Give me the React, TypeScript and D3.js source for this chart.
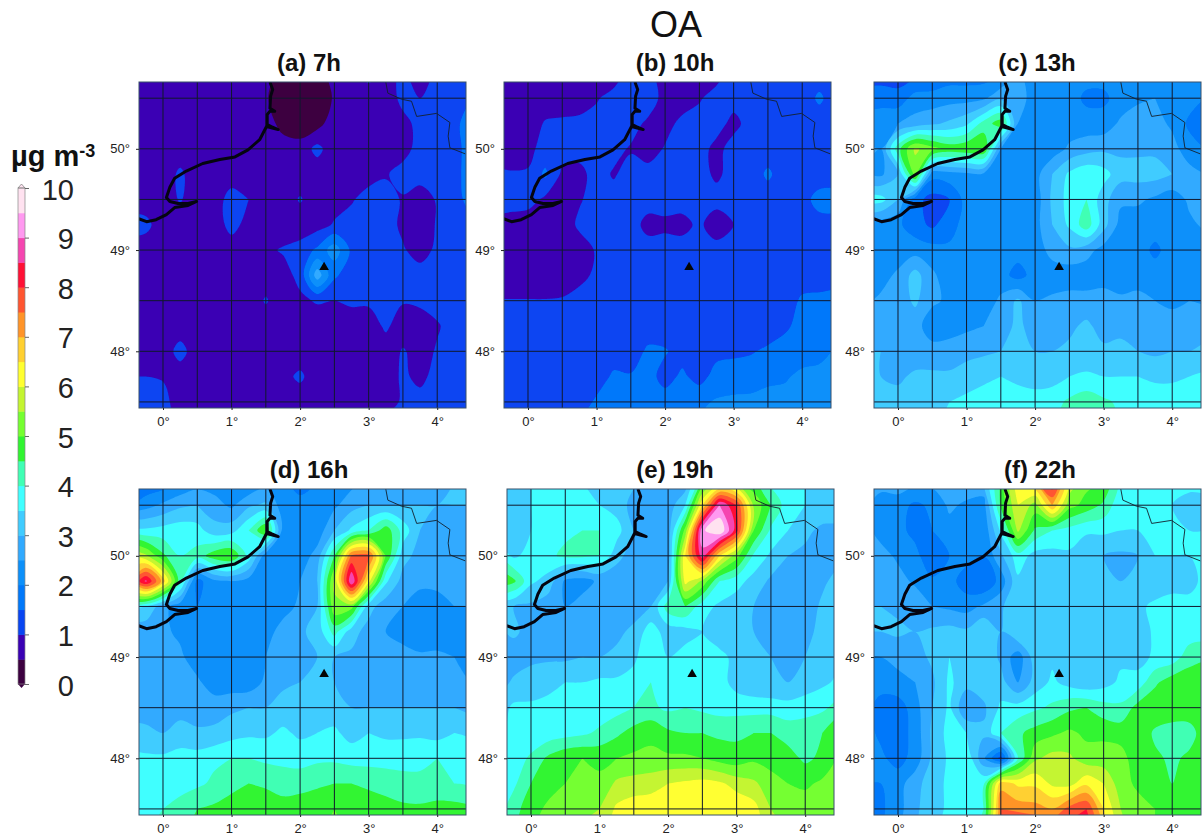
import React, { useEffect, useRef } from "react";
import * as d3 from "d3";

// concentration, rows lat 50.75 -> 47.25, cols lon -0.5 -> 4.5 (0.25 deg steps)
const gridLons = d3.range(21).map((i) => -0.5 + i * 0.25);
const gridLats = d3.range(15).map((j) => 50.75 - j * 0.25);

const panelA = [
  [.7,.7,.7,.7,.7,.7,.7,.7,.7,.2,.2,.2,.7,.8,1.2,.8,1.1,.7,1.1,1.2,1.2],
  [.7,.7,.7,.7,.7,.7,.7,.7,.55,.2,.2,.2,.55,.7,.7,.7,1.15,1.0,1.15,1.3,1.5],
  [.7,.7,.7,.7,.7,.7,.7,.7,.7,.35,.2,.3,.8,.7,.7,.7,.85,1.15,1.25,1.4,1.7],
  [.7,.7,.7,.7,.7,.7,.7,.7,.7,.7,.7,1.15,.7,.7,.7,.8,.8,1.2,1.3,1.35,1.7],
  [.7,.7,.7,1.1,.7,.7,.7,.7,.7,.7,.7,.7,.7,.75,.8,.95,1.2,1.2,1.2,1.3,1.8],
  [.7,.7,.7,1.05,.7,.7,1.25,1.0,.7,.7,1.05,.7,.8,.95,1.2,1.2,.95,.75,1.05,1.3,1.7],
  [1.2,1.15,.7,.7,.7,.7,1.2,.8,.7,.7,.7,.8,1.05,1.2,1.2,1.2,.9,.7,1.05,1.2,1.3],
  [.7,.7,.7,.7,.7,.7,.7,.75,.9,1.05,1.2,1.6,2.3,1.4,1.2,1.2,1.05,.8,1.1,1.2,1.2],
  [.7,.7,.7,.7,.7,.7,.7,.7,.75,.8,1.15,2.8,1.6,1.2,1.2,1.2,1.2,1.2,1.2,1.2,1.2],
  [.7,.7,.7,.7,.7,.7,.7,.7,1.05,.7,.9,1.05,1.0,1.1,1.1,1.1,1.05,1.1,1.2,1.2,1.2],
  [.7,.7,.7,.7,.7,.7,.7,.7,.7,.7,.7,.7,.7,.7,.7,1.1,.7,.75,.95,1.2,1.2],
  [.7,.7,.7,1.2,.7,.7,.7,.7,.7,.7,.7,.7,.7,.8,.7,.7,1.05,.8,1.05,1.2,1.2],
  [1.0,1.0,.95,.7,.7,.7,.7,.7,.7,.85,1.1,.7,.95,.7,.7,.7,1.1,.85,1.2,1.2,1.2],
  [1.2,1.2,1.2,.7,.7,.7,.7,.7,.7,.7,.7,.7,.7,.7,.75,.85,1.05,1.2,1.2,1.25,1.4],
  [1.2,1.2,1.2,.8,.8,.8,.8,.8,.8,.8,.8,.8,.85,1.1,1.2,1.2,1.2,1.2,1.3,1.6,1.6],
];
const panelB = [
  [.7,.7,.7,.7,.7,.7,.7,.7,1.2,1.15,.7,.7,.7,.8,1.2,1.2,1.2,1.2,1.2,1.2,1.2],
  [.7,.7,.7,.7,.7,.7,.95,1.2,1.25,1.3,.8,.7,.95,1.2,1.2,1.2,1.2,1.2,1.2,1.6,1.2],
  [.7,.7,.7,1.05,1.1,1.15,1.2,1.2,1.2,.9,.8,1.15,1.2,1.2,.85,1.2,1.2,1.2,1.2,1.2,1.2],
  [.7,.7,.85,1.2,1.2,1.2,1.2,1.15,.95,.75,1.05,1.2,1.2,.85,1.2,1.2,1.2,1.2,1.2,1.2,1.2],
  [1.1,1.05,1.05,1.6,.9,.85,1.2,.95,1.2,1.2,1.2,1.2,1.2,.9,1.2,1.2,1.6,1.2,1.2,1.2,1.2],
  [1.2,1.2,1.2,.9,.85,.95,1.2,1.2,1.2,1.2,1.2,1.2,1.2,1.2,1.2,1.2,1.2,1.2,1.3,1.7,1.7],
  [.85,.8,.7,.7,.7,1.1,1.05,1.2,1.2,.85,.9,.85,1.1,.7,1.0,1.2,1.2,1.2,1.2,1.3,1.3],
  [.7,.7,.7,.7,.7,.75,1.05,1.2,1.2,1.2,1.2,1.2,1.2,1.2,1.2,1.2,1.2,1.2,1.2,1.2,1.2],
  [.7,.7,.7,.7,.7,.85,1.1,1.2,1.2,1.2,1.2,1.2,1.2,1.2,1.2,1.2,1.2,1.2,1.2,1.2,1.2],
  [1.02,1.02,1.02,1.02,1.05,1.2,1.2,1.2,1.2,1.2,1.2,1.2,1.2,1.2,1.2,1.2,1.2,1.2,1.6,1.65,1.7],
  [1.2,1.2,1.2,1.2,1.2,1.2,1.2,1.2,1.2,1.2,1.2,1.2,1.2,1.2,1.2,1.2,1.2,1.4,1.7,1.7,1.75],
  [1.2,1.2,1.2,1.2,1.2,1.2,1.2,1.2,1.2,1.6,1.55,1.3,1.25,1.35,1.4,1.45,1.6,1.75,1.8,1.85,2.05],
  [1.6,1.2,1.2,1.2,1.2,1.2,1.2,1.6,1.55,1.7,1.3,1.6,1.3,1.7,1.75,1.8,1.9,1.95,2.1,2.15,2.2],
  [1.3,1.2,1.2,1.2,1.2,1.2,1.6,1.7,1.7,1.7,1.75,1.8,1.9,2.05,2.1,2.1,2.15,2.15,2.2,2.2,2.2],
  [1.3,1.2,1.2,1.2,1.3,1.6,1.7,1.75,1.8,1.8,1.85,1.95,2.1,2.15,2.2,2.2,2.2,2.2,2.2,2.3,2.3],
];
const panelC = [
  [1.2,1.2,1.2,1.3,1.5,1.7,1.7,1.7,1.9,2.6,2.2,2.2,2.2,2.2,2.2,2.2,2.2,2.2,2.2,2.2,2.2],
  [1.7,1.8,1.7,2.2,2.2,2.3,2.3,2.4,2.9,2.8,2.2,2.1,2.2,1.9,1.9,2.2,2.4,2.5,2.4,2.2,2.0],
  [2.2,2.3,2.5,2.7,2.9,3.1,3.4,4.2,4.8,2.5,2.2,2.2,2.2,2.2,2.2,2.6,2.8,2.7,2.4,1.9,1.8],
  [2.6,2.5,4.3,5.6,5.2,4.8,4.9,5.0,2.5,2.2,2.2,2.2,2.6,2.8,2.9,2.9,2.9,2.9,2.7,2.2,2.0],
  [2.4,2.4,3.0,5.2,2.2,2.3,2.4,2.4,2.3,2.2,2.3,3.0,3.6,3.9,3.7,3.2,3.2,3.2,3.0,2.7,2.5],
  [3.7,3.7,3.0,1.7,1.3,1.5,2.2,2.2,2.2,2.2,2.2,3.1,3.7,4.0,3.2,2.6,2.6,2.4,2.2,2.6,2.9],
  [2.2,2.2,2.1,1.7,1.4,1.8,2.2,2.2,2.2,2.2,2.3,3.0,3.6,4.3,3.2,2.3,2.2,2.2,2.2,2.4,2.6],
  [2.1,2.1,2.2,2.3,2.2,2.1,2.1,2.1,2.2,2.2,2.2,2.7,2.9,2.7,2.3,2.2,2.2,1.9,2.2,2.2,2.2],
  [2.2,2.3,2.6,3.2,2.6,2.2,2.1,2.1,2.2,1.8,2.2,2.2,2.2,2.2,2.3,2.2,2.2,2.2,2.2,2.3,2.5],
  [2.4,2.6,2.7,3.1,2.6,2.4,2.1,2.2,2.6,3.1,2.5,2.6,2.7,2.7,2.7,2.6,2.7,2.5,2.4,2.5,2.4],
  [2.8,2.7,2.7,2.7,2.2,2.3,2.4,2.5,2.8,3.1,2.8,2.9,2.9,3.1,2.8,2.8,2.8,2.7,2.7,2.7,2.8],
  [3.0,3.0,2.7,2.7,2.7,2.7,2.8,2.9,3.0,3.1,3.0,3.0,3.1,3.1,3.1,3.2,3.0,2.9,3.0,3.0,3.1],
  [3.0,3.0,2.9,3.1,3.1,3.1,3.3,3.4,3.5,3.4,3.3,3.3,3.5,3.6,3.5,3.5,3.5,3.4,3.4,3.5,3.6],
  [3.1,3.1,3.2,3.3,3.3,3.5,3.6,3.7,3.8,3.7,3.7,3.8,4.1,4.3,4.1,3.9,3.8,3.8,3.8,3.8,3.9],
  [3.2,3.2,3.3,3.4,3.4,3.6,3.7,3.8,3.8,3.8,3.8,3.9,4.2,4.4,4.2,4.0,3.9,3.9,3.9,3.9,4.0],
];
const panelD = [
  [1.5,1.5,1.6,1.9,2.2,2.2,1.9,1.9,2.2,2.1,1.7,2.0,2.1,2.3,2.6,2.8,2.9,2.9,2.9,3.0,3.0],
  [1.9,2.3,2.6,2.9,3.0,2.7,2.4,2.9,3.1,2.2,2.2,2.2,2.4,2.8,3.0,3.0,3.0,3.0,3.0,3.0,3.0],
  [3.6,3.6,3.7,3.8,3.7,3.2,3.3,4.0,5.0,2.3,2.2,2.2,3.0,3.6,4.0,4.8,3.8,3.0,2.9,2.9,2.9],
  [6.0,5.6,4.6,4.0,4.2,4.8,5.0,3.8,2.2,2.2,2.2,2.7,4.5,7.6,7.7,5.0,3.2,2.8,2.8,2.7,2.6],
  [7.0,8.6,6.8,4.2,1.8,2.4,2.5,2.3,2.2,2.3,2.5,3.0,5.6,9.0,6.2,3.6,2.8,2.7,2.7,2.7,2.6],
  [3.6,3.5,2.7,2.2,2.0,2.2,2.2,2.2,2.2,2.3,2.6,3.0,5.4,5.2,3.2,2.7,2.5,2.1,2.2,2.5,2.5],
  [2.5,2.6,2.6,2.4,2.2,2.2,2.2,2.2,2.3,2.7,2.9,3.2,4.2,3.2,2.8,2.5,2.3,2.1,2.2,2.2,2.3],
  [2.5,2.5,2.6,2.6,2.2,2.2,2.2,2.2,2.5,2.7,2.8,3.0,3.0,2.9,2.8,2.7,2.7,2.6,2.6,2.5,2.4],
  [2.6,2.6,2.6,2.7,2.6,2.2,2.2,2.2,2.6,2.9,3.0,3.0,3.0,2.9,2.9,2.7,2.6,2.7,2.7,2.7,2.5],
  [2.7,2.8,2.6,2.8,2.7,2.8,2.9,3.0,3.0,3.2,3.1,3.1,3.2,3.0,3.0,3.0,3.0,3.0,3.0,3.0,2.8],
  [3.2,3.1,3.0,3.2,3.1,3.1,3.3,3.4,3.4,3.6,3.4,3.5,3.6,3.3,3.5,3.4,3.4,3.4,3.3,3.5,3.4],
  [3.6,3.6,3.6,3.7,3.7,3.9,4.0,4.0,3.9,3.9,3.8,3.9,3.9,3.8,3.8,3.8,3.8,3.9,4.0,3.8,3.8],
  [3.7,3.7,3.7,3.8,3.9,4.1,4.3,4.5,4.4,4.2,4.3,4.4,4.5,4.5,4.4,4.3,4.2,4.1,4.1,4.0,3.9],
  [3.8,3.9,4.0,4.2,4.5,4.6,4.8,4.9,4.9,4.8,4.8,4.9,5.0,4.9,4.8,4.7,4.6,4.6,4.7,4.7,4.6],
  [3.9,4.0,4.1,4.3,4.7,4.8,4.9,5.0,5.0,5.0,5.0,5.0,5.0,5.0,5.0,4.9,4.8,4.8,4.8,4.8,4.8],
];
const panelE = [
  [3.4,3.4,3.5,3.5,3.5,3.5,3.4,3.3,3.1,2.7,2.4,2.6,4.4,5.2,5.0,4.6,3.8,3.6,3.5,3.4,3.2],
  [3.4,3.3,3.5,3.6,3.6,3.5,3.5,3.3,2.8,2.7,2.7,3.5,6.5,9.0,8.0,5.4,4.5,3.7,3.5,3.3,3.2],
  [3.0,3.0,3.5,3.7,3.9,4.0,4.0,3.7,3.0,2.7,2.7,5.2,9.4,10,8.2,5.0,3.9,3.5,3.1,2.9,2.9],
  [3.9,3.4,3.7,3.9,4.1,4.1,4.0,3.2,2.7,2.7,2.7,6.5,8.8,6.5,5.2,3.9,3.4,3.0,2.9,2.9,2.8],
  [4.9,4.6,3.6,3.3,2.4,2.3,2.6,2.6,2.7,2.7,3.0,6.2,5.4,4.0,3.7,3.3,2.9,2.7,2.7,2.9,3.2],
  [3.0,3.0,2.9,2.7,2.5,2.7,2.7,2.7,2.8,3.0,4.3,4.5,3.7,3.4,3.2,3.0,2.7,2.6,2.7,3.1,3.3],
  [2.9,3.1,2.8,2.7,2.5,2.7,2.8,2.9,3.1,3.8,3.2,3.3,3.5,3.3,3.2,3.0,2.8,2.6,2.7,3.3,3.4],
  [2.9,2.7,2.9,2.9,2.9,3.0,3.0,3.1,3.4,3.9,3.5,3.7,3.5,3.6,3.4,3.1,3.0,2.9,3.0,3.2,3.4],
  [2.7,3.1,3.2,3.4,3.5,3.5,3.6,3.6,3.7,4.0,3.6,3.9,3.7,3.7,3.3,3.1,3.0,3.0,3.2,3.4,3.6],
  [3.2,3.6,3.6,3.6,3.6,3.7,3.7,3.8,4.0,4.1,3.9,4.0,3.9,3.8,3.8,3.8,3.8,3.7,3.8,3.9,4.2],
  [3.4,3.6,3.6,3.7,3.8,3.9,4.1,4.4,4.7,4.9,4.6,4.5,4.5,4.4,4.4,4.5,4.5,4.3,4.3,4.5,5.0],
  [3.5,3.7,4.1,4.6,4.9,5.0,4.9,5.0,5.1,5.1,5.1,5.1,5.0,4.8,4.7,4.9,4.8,4.7,4.4,4.6,5.1],
  [3.6,3.9,4.5,4.8,5.0,5.1,5.1,5.6,5.7,5.8,6.0,6.1,6.2,6.1,5.8,5.6,5.2,5.0,4.9,5.1,5.2],
  [3.7,4.3,4.8,5.1,5.3,5.4,5.5,6.1,6.3,6.3,6.4,6.4,6.4,6.4,6.4,6.2,5.5,5.3,5.3,5.3,5.3],
  [3.8,4.4,5.0,5.3,5.5,5.6,5.8,6.2,6.4,6.4,6.4,6.5,6.5,6.5,6.4,6.2,5.7,5.5,5.4,5.4,5.4],
];
const panelF = [
  [2.7,2.8,2.9,2.7,2.7,2.7,2.9,2.9,4.6,6.4,7.2,8.6,5.9,5.2,5.0,3.8,3.7,3.7,3.6,3.6,3.6],
  [2.7,2.2,2.2,1.9,2.1,2.6,2.4,2.3,4.6,6.0,5.3,7.0,5.2,4.8,4.4,3.6,3.6,3.6,3.5,3.4,3.4],
  [2.7,2.3,2.2,1.8,2.0,2.3,2.1,2.1,3.6,5.6,4.4,4.0,3.8,3.6,3.6,3.5,3.5,3.5,3.5,3.5,3.5],
  [2.8,2.7,2.4,2.2,1.5,2.0,2.2,2.0,2.9,3.8,3.3,3.3,3.4,3.0,3.0,2.9,3.0,3.5,3.5,3.5,3.5],
  [2.8,2.7,2.7,2.4,2.1,2.2,1.7,1.5,2.2,3.4,3.4,3.5,3.5,3.3,3.1,3.0,3.0,3.2,3.4,3.4,3.6],
  [3.0,3.0,2.9,2.9,2.5,2.4,2.3,2.6,2.9,3.5,3.4,3.1,3.1,3.1,3.1,3.1,3.4,3.6,3.6,3.6,3.7],
  [3.0,3.0,3.1,3.0,3.1,3.2,3.1,3.5,3.0,3.5,3.4,3.1,3.1,3.1,3.0,3.1,3.2,3.6,3.7,3.7,3.7],
  [2.5,2.5,2.6,2.8,3.1,3.5,3.3,3.4,2.9,2.2,3.3,3.4,3.1,3.1,3.1,3.4,3.3,3.6,3.7,4.3,4.4],
  [2.2,2.2,2.4,2.5,2.9,3.6,3.2,3.3,3.2,2.5,3.2,3.6,3.3,3.1,3.3,3.6,3.7,4.4,4.8,4.8,4.9],
  [2.2,1.8,1.7,2.3,3.0,3.6,2.5,2.9,3.6,3.7,3.9,4.1,4.4,4.5,4.2,4.1,4.7,4.9,4.9,4.8,4.8],
  [2.2,1.9,1.7,2.2,3.1,3.7,3.5,3.1,4.0,4.4,4.7,4.9,5.1,4.9,4.9,4.8,4.9,4.4,4.2,4.3,4.8],
  [2.4,2.1,1.8,2.2,3.1,3.6,3.9,2.6,1.3,4.0,5.4,5.7,5.6,5.2,5.2,5.2,4.7,4.6,4.4,4.6,5.0],
  [2.0,2.0,2.3,2.8,3.3,3.6,3.6,3.9,6.8,6.4,6.4,5.9,5.8,6.4,6.0,5.2,4.9,4.8,4.5,4.5,4.8],
  [1.9,1.9,2.3,2.9,3.3,3.6,3.7,4.0,7.5,7.3,7.2,7.0,7.7,8.0,6.5,5.5,5.2,5.0,4.7,4.6,4.8],
  [1.9,2.0,2.4,3.0,3.4,3.7,3.8,4.1,7.5,9.0,8.5,8.4,8.4,8.5,6.8,5.6,5.3,5.0,4.8,4.7,4.9],
];

const panelTitles = ["(a) 7h", "(b) 10h", "(c) 13h", "(d) 16h", "(e) 19h", "(f) 22h"];
const panelGrids = [panelA, panelB, panelC, panelD, panelE, panelF];

// colour bands, 0.5 wide each
const bandColors = [
  "#3c0040", "#3a00b4", "#0845f2", "#0078fa", "#0c90fa", "#30aaff", "#40ccff", "#40ffff", "#40ffb4", "#30f530",
  "#75ff30", "#c4f530", "#ffff30", "#ffd030", "#ff9428", "#ff5530", "#ff1035", "#f545b0", "#ff99f0", "#ffe2f0",
];
const bandEdges = d3.range(20).map((i) => i * 0.5);
const legendTicks = d3.range(0, 11);

const lonTicks = [0, 1, 2, 3, 4];
const latTicks = [48, 49, 50];
const lonLines = [0, 0.5, 1, 1.5, 2, 2.5, 3, 3.5, 4];
const latLines = [47.5, 48, 48.5, 49, 49.5, 50, 50.5];

const coastLine = [
  [-0.355,49.31],[-0.24,49.28],[-0.1,49.3],[0.05,49.35],[0.17,49.42],[0.365,49.44],[0.49,49.48],[0.365,49.46],
  [0.22,49.46],[0.1,49.48],[0.05,49.52],[0.1,49.62],[0.17,49.71],[0.34,49.78],[0.58,49.855],[0.83,49.895],
  [1.05,49.92],[1.24,49.99],[1.41,50.09],[1.51,50.22],[1.68,50.19],[1.58,50.22],[1.52,50.24],[1.52,50.34],
  [1.56,50.37],[1.63,50.37],[1.56,50.4],[1.57,50.52],[1.6,50.585],[1.56,50.66],
];
const borderLine = [
  [3.25,50.66],[3.28,50.55],[3.48,50.49],[3.625,50.47],[3.7,50.32],[3.99,50.35],[4.185,50.26],[4.16,50.125],
  [4.185,50.01],[4.41,49.95],
];
const siteLon = 2.35;
const siteLat = 48.83;

const panelX = [139, 504, 874, 139, 507, 874];
const panelY = [82, 82, 82, 489, 489, 489];
const titleX = [309, 675, 1037, 309, 675, 1040];
const panelW = 327;
const panelH = 326;

export default function App() {
  const ref = useRef<SVGSVGElement>(null);

  useEffect(() => {
    const svg = d3.select(ref.current);
    svg.selectAll("*").remove();
    const font = "'Liberation Sans', Arial, sans-serif";

    svg.append("text").text("OA").attr("x", 676).attr("y", 37)
      .attr("text-anchor", "middle").attr("font-size", 36).attr("font-family", font).attr("fill", "#111");

    // the source is a soft scan, a touch of blur rounds the contour corners
    svg.append("filter").attr("id", "soft").append("feGaussianBlur").attr("stdDeviation", 0.7);

    const contours = d3.contours().size([gridLons.length, gridLats.length]).thresholds(bandEdges.slice(1));

    panelGrids.forEach((grid, p) => {
      const x0 = panelX[p];
      const y0 = panelY[p];
      const lonScale = d3.scaleLinear().domain([-0.35, 4.42]).range([x0, x0 + panelW]);
      const latScale = d3.scaleLinear().domain([50.66, 47.44]).range([y0, y0 + panelH]);
      // contour coords are in grid cells, cell centres sit at i + 0.5
      const cellX = (c: number) => lonScale(gridLons[0] + (c - 0.5) * 0.25);
      const cellY = (c: number) => latScale(gridLats[0] - (c - 0.5) * 0.25);
      const ringPath = d3.line().x((d: any) => cellX(d[0])).y((d: any) => cellY(d[1])).curve(d3.curveCatmullRomClosed);

      svg.append("clipPath").attr("id", `clip-${p}`)
        .append("rect").attr("x", x0).attr("y", y0).attr("width", panelW).attr("height", panelH);

      const g = svg.append("g").attr("clip-path", `url(#clip-${p})`);
      const fills = g.append("g").attr("filter", "url(#soft)");
      fills.append("rect").attr("x", x0 - 20).attr("y", y0 - 20).attr("width", panelW + 40).attr("height", panelH + 40).attr("fill", bandColors[0]);

      const flat = grid.flat();
      fills.selectAll("path.band")
        .data(contours(flat))
        .join("path")
        .attr("class", "band")
        .attr("fill", (d, i) => bandColors[i + 1])
        .attr("fill-rule", "evenodd")
        .attr("d", (d: any) =>
          d.coordinates
            .flatMap((poly: any) => poly.map((ring: any) => ringPath(ring.slice(0, -1))))
            .join(""));

      // graticule
      g.selectAll("line.lon").data(lonLines).join("line").attr("class", "lon")
        .attr("x1", (d) => lonScale(d)).attr("x2", (d) => lonScale(d)).attr("y1", y0).attr("y2", y0 + panelH)
        .attr("stroke", "#10182c").attr("stroke-width", 1);
      g.selectAll("line.lat").data(latLines).join("line").attr("class", "lat")
        .attr("y1", (d) => latScale(d)).attr("y2", (d) => latScale(d)).attr("x1", x0).attr("x2", x0 + panelW)
        .attr("stroke", "#10182c").attr("stroke-width", 1);

      const geoLine = d3.line().x((d: any) => lonScale(d[0])).y((d: any) => latScale(d[1]));
      g.append("path").attr("d", geoLine(borderLine as any)).attr("fill", "none").attr("stroke", "#14202c").attr("stroke-width", 0.9);
      g.append("path").attr("d", geoLine(coastLine as any)).attr("fill", "none").attr("stroke", "#050510")
        .attr("stroke-width", 3).attr("stroke-linejoin", "round");

      svg.append("path").attr("d", d3.symbol(d3.symbolTriangle, 40)())
        .attr("transform", `translate(${lonScale(siteLon)},${latScale(siteLat)})`).attr("fill", "#050505");

      svg.append("rect").attr("x", x0).attr("y", y0).attr("width", panelW).attr("height", panelH)
        .attr("fill", "none").attr("stroke", "#39506a").attr("stroke-width", 1);

      const axisB = d3.axisBottom(lonScale).tickValues(lonTicks).tickSize(2).tickPadding(7)
        .tickFormat((d) => `${d}°`);
      const axisL = d3.axisLeft(latScale).tickValues(latTicks).tickSize(3).tickPadding(6)
        .tickFormat((d) => `${d}°`);
      const ax = svg.append("g").attr("transform", `translate(0,${y0 + panelH})`).call(axisB);
      const ay = svg.append("g").attr("transform", `translate(${x0},0)`).call(axisL);
      [ax, ay].forEach((a) => {
        a.select(".domain").remove();
        a.selectAll("text").attr("font-family", font).attr("font-size", 13).attr("fill", "#222");
        a.selectAll("line").attr("stroke", "#222");
      });

      svg.append("text").text(panelTitles[p]).attr("x", titleX[p]).attr("y", y0 - 11)
        .attr("text-anchor", "middle").attr("font-size", 24).attr("font-weight", "bold")
        .attr("font-family", font).attr("fill", "#111");
    });

    // colour bar
    const legendY = d3.scaleLinear().domain([0, 10]).range([684, 188]);
    const bar = svg.append("g");
    bar.selectAll("rect").data(bandEdges).join("rect")
      .attr("x", 18).attr("width", 7)
      .attr("y", (d) => legendY(d + 0.5)).attr("height", (d) => legendY(d) - legendY(d + 0.5) + 0.5)
      .attr("fill", (d, i) => bandColors[i]);
    bar.append("path").attr("d", `M18,${legendY(10)}L21.5,${legendY(10) - 4}L25,${legendY(10)}Z`)
      .attr("fill", bandColors[19]).attr("stroke", "#777").attr("stroke-width", 0.7);
    bar.append("path").attr("d", `M18,${legendY(0)}L21.5,${legendY(0) + 4}L25,${legendY(0)}Z`)
      .attr("fill", bandColors[0]);
    bar.append("rect").attr("x", 18).attr("y", legendY(10)).attr("width", 7).attr("height", legendY(0) - legendY(10))
      .attr("fill", "none").attr("stroke", "#888").attr("stroke-width", 0.7);

    const axisLegend = d3.axisRight(legendY).tickValues(legendTicks).tickSize(4).tickPadding(28)
      .tickFormat((d) => `${d}`);
    const lg = svg.append("g").attr("transform", "translate(25,0)").call(axisLegend);
    lg.select(".domain").remove();
    lg.selectAll("line").attr("stroke", "#666");
    lg.selectAll("text").attr("font-family", font).attr("font-size", 29).attr("fill", "#222")
      .attr("text-anchor", "end").attr("x", 49).attr("dy", "0.38em");

    const unit = svg.append("text").attr("x", 11).attr("y", 166).attr("font-family", font)
      .attr("font-weight", "bold").attr("font-size", 29).attr("fill", "#111");
    unit.append("tspan").text("µg m");
    unit.append("tspan").text("-3").attr("font-size", 18).attr("dy", -9);
  }, []);

  return <svg ref={ref} width={1202} height={840} style={{ position: "absolute", left: 0, top: 0, display: "block", background: "#fff" }} />;
}
